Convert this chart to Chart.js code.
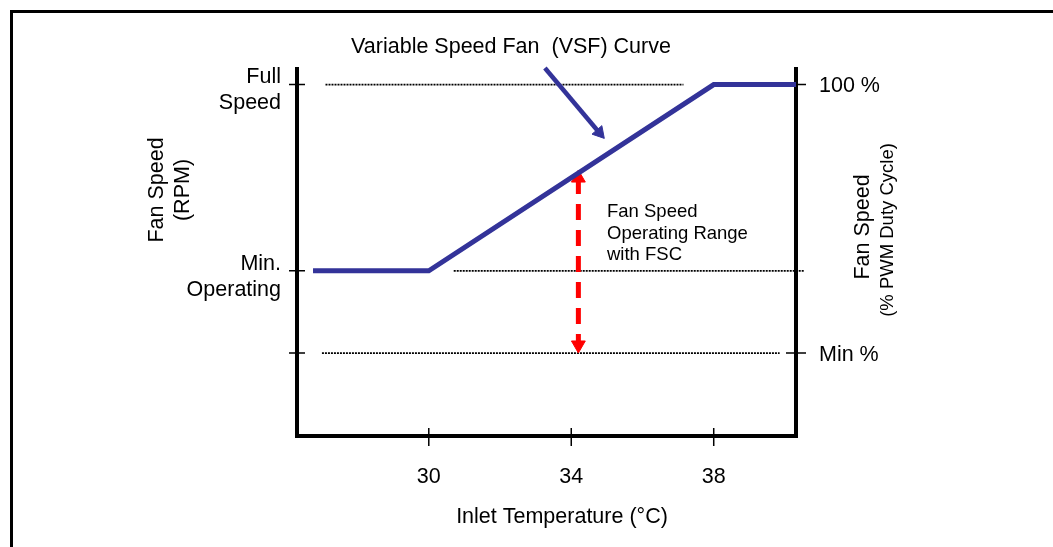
<!DOCTYPE html>
<html>
<head>
<meta charset="utf-8">
<script src="https://cdn.jsdelivr.net/npm/chart.js@4"></script>
<style>
 html,body{margin:0;padding:0;background:#fff;}
 canvas{display:block;}
</style>
</head>
<body>
<canvas id="fanChart" width="1053" height="547" style="width:1053px;height:547px"></canvas>
<script>
// x = inlet temperature (°C), y = fan speed in % of the plot height
const tempTicks = [30, 34, 38];
const curveTemps = [26.75, 30, 38, 40.31];
const curveSpeeds = [47, 47, 100, 100];

const fullLineTemps = [27.1, 37.15];
const fullLineSpeeds = [100, 100];
const minOpLineTemps = [30.7, 40.55];
const minOpLineSpeeds = [47, 47];
const minPctLineTemps = [27.0, 39.85];
const minPctLineSpeeds = [23.6, 23.6];

const rangeTemps = [34.2, 34.2];
const rangeSpeeds = [73.4, 25.9];

const calloutTemps = [33.26, 34.79];
const calloutSpeeds = [104.7, 86.3];

const leftTickValues = [100, 47, 23.6];
const leftTickLabels = [['Full', 'Speed'], ['Min.', 'Operating'], []];
const rightTickValues = [100, 23.6];
const rightTickLabels = ['100 %', 'Min %'];

const FONT = '"Liberation Sans", Arial, sans-serif';
const BLUE = '#333399';

function pts(xs, ys) {
  return xs.map((x, i) => ({x: x, y: ys[i]}));
}

const drawingPlugin = {
  id: 'drawing',
  beforeDatasetsDraw(chart) {
    const ctx = chart.ctx;
    const xs = chart.scales.x, ys = chart.scales.y;
    const a = chart.chartArea;
    ctx.save();
    // outer frame (left and top only)
    ctx.strokeStyle = '#000';
    ctx.lineWidth = 3;
    ctx.beginPath();
    ctx.moveTo(11.5, 547);
    ctx.lineTo(11.5, 11.5);
    ctx.lineTo(1053, 11.5);
    ctx.stroke();

    // axes
    ctx.lineWidth = 4;
    ctx.beginPath();
    ctx.moveTo(a.left, a.top);
    ctx.lineTo(a.left, a.bottom);
    ctx.lineTo(a.right, a.bottom);
    ctx.moveTo(a.right, a.top);
    ctx.lineTo(a.right, a.bottom + 2);
    ctx.stroke();

    // ticks
    ctx.lineWidth = 1.5;
    ctx.beginPath();
    tempTicks.forEach(t => {
      const px = xs.getPixelForValue(t);
      ctx.moveTo(px, a.bottom - 8);
      ctx.lineTo(px, a.bottom + 10);
    });
    leftTickValues.forEach(v => {
      const py = ys.getPixelForValue(v);
      ctx.moveTo(a.left - 8, py);
      ctx.lineTo(a.left + 8, py);
    });
    rightTickValues.forEach(v => {
      const py = ys.getPixelForValue(v);
      ctx.moveTo(a.right - 10, py);
      ctx.lineTo(a.right + 10, py);
    });
    ctx.stroke();

    // tick labels
    ctx.fillStyle = '#000';
    ctx.font = '21.5px ' + FONT;
    ctx.textBaseline = 'middle';
    ctx.textAlign = 'center';
    tempTicks.forEach(t => {
      ctx.fillText(String(t), xs.getPixelForValue(t), a.bottom + 41);
    });
    ctx.textAlign = 'right';
    leftTickValues.forEach((v, i) => {
      const py = ys.getPixelForValue(v);
      leftTickLabels[i].forEach((s, j) => {
        ctx.fillText(s, a.left - 16, py - 7 + j * 26);
      });
    });
    ctx.textAlign = 'left';
    rightTickValues.forEach((v, i) => {
      ctx.fillText(rightTickLabels[i], a.right + 23, ys.getPixelForValue(v) + 2);
    });

    // axis titles
    ctx.textAlign = 'center';
    ctx.fillText('Inlet Temperature (°C)', 562, 517);

    ctx.save();
    ctx.translate(157, 190);
    ctx.rotate(-Math.PI / 2);
    ctx.fillText('Fan Speed', 0, 0);
    ctx.fillText('(RPM)', 0, 26);
    ctx.restore();

    ctx.save();
    ctx.translate(863, 227);
    ctx.rotate(-Math.PI / 2);
    ctx.fillText('Fan Speed', 0, 0);
    ctx.font = '18.5px ' + FONT;
    ctx.fillText('(% PWM Duty Cycle)', -3, 25);
    ctx.restore();

    // annotations
    ctx.font = '21.5px ' + FONT;
    ctx.fillText('Variable Speed Fan  (VSF) Curve', 511, 47);
    ctx.textAlign = 'left';
    ctx.font = '18.5px ' + FONT;
    ['Fan Speed', 'Operating Range', 'with FSC'].forEach((s, i) => {
      ctx.fillText(s, 607, 212 + i * 21.5);
    });
    ctx.restore();
  }
};

const dotted = {
  borderColor: '#000',
  borderWidth: 1.8,
  borderDash: [2, 1],
  pointRadius: 0,
  showLine: true,
  clip: false
};

new Chart(document.getElementById('fanChart'), {
  type: 'scatter',
  data: {
    datasets: [{
      label: 'VSF curve',
      data: pts(curveTemps, curveSpeeds),
      borderColor: BLUE,
      borderWidth: 5,
      pointRadius: 0,
      showLine: true,
      clip: false
    }, {
      label: 'Callout',
      data: pts(calloutTemps, calloutSpeeds),
      borderColor: BLUE,
      backgroundColor: BLUE,
      borderWidth: 4.5,
      pointStyle: 'triangle',
      pointRadius: [0, 7.5],
      pointRotation: [0, 139],
      pointBorderWidth: 1,
      showLine: true,
      clip: false
    }, {
      label: 'Operating range',
      data: pts(rangeTemps, rangeSpeeds),
      borderColor: '#ff0000',
      backgroundColor: '#ff0000',
      borderWidth: 5,
      borderDash: [16, 10],
      pointStyle: 'triangle',
      pointRadius: 8,
      pointRotation: [0, 180],
      pointBorderWidth: 1,
      showLine: true,
      clip: false
    },
    Object.assign({label: 'Full', data: pts(fullLineTemps, fullLineSpeeds)}, dotted),
    Object.assign({label: 'Min op', data: pts(minOpLineTemps, minOpLineSpeeds)}, dotted),
    Object.assign({label: 'Min %', data: pts(minPctLineTemps, minPctLineSpeeds)}, dotted)
    ]
  },
  options: {
    responsive: false,
    animation: false,
    layout: {padding: {left: 297, right: 257, top: 67, bottom: 111}},
    scales: {
      x: {type: 'linear', min: 26.3, max: 40.31, display: false},
      y: {type: 'linear', min: 0, max: 105, display: false}
    },
    plugins: {
      legend: {display: false},
      tooltip: {enabled: false}
    }
  },
  plugins: [drawingPlugin]
});
</script>
</body>
</html>
